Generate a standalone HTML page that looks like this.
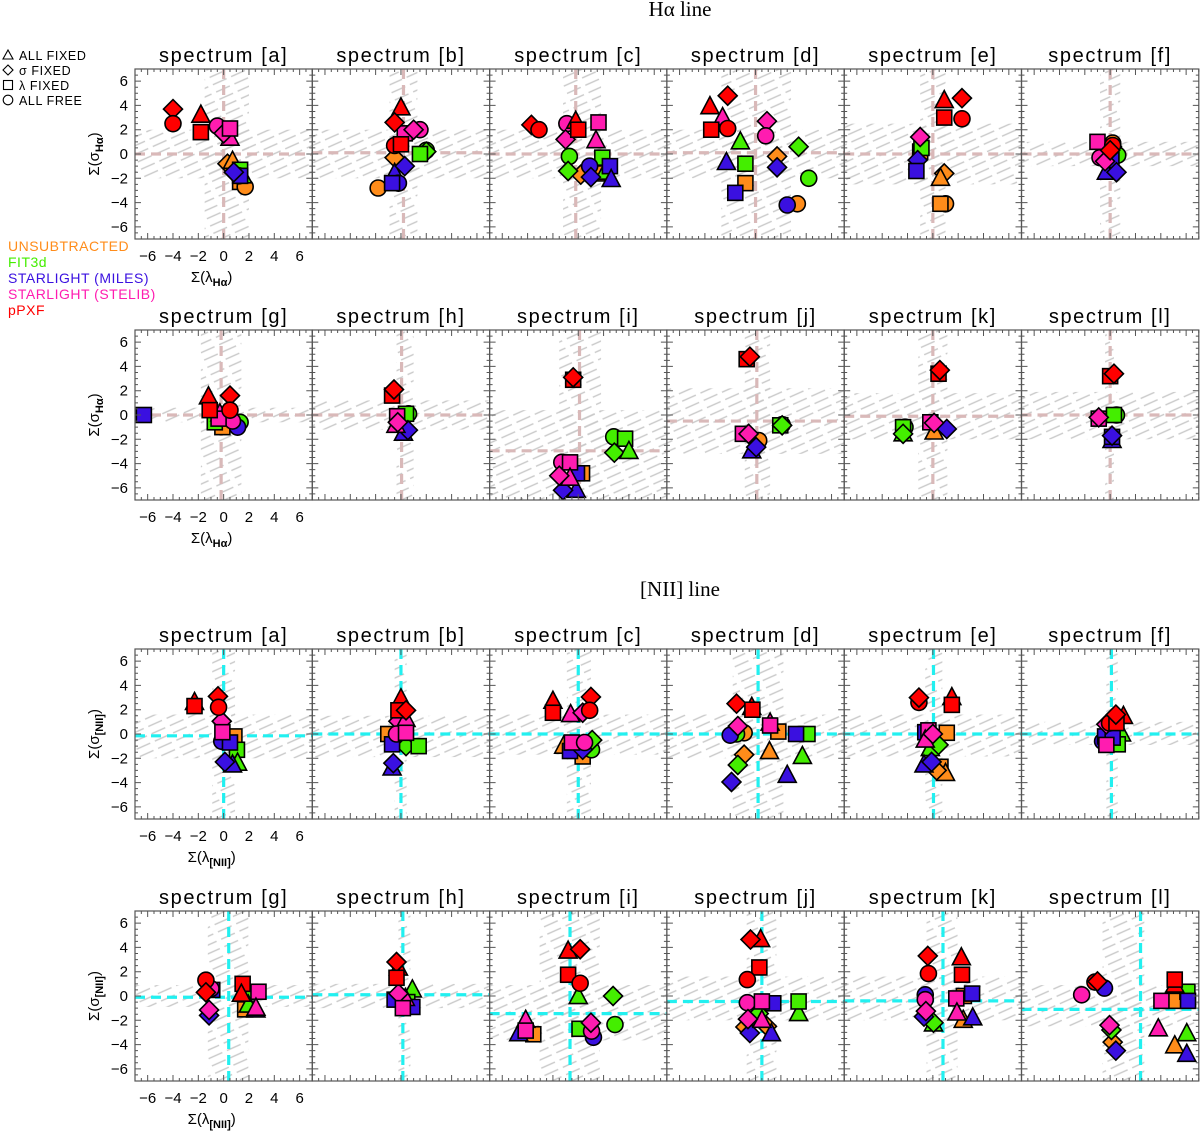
<!DOCTYPE html>
<html><head><meta charset="utf-8">
<style>
html,body{margin:0;padding:0;background:#fff;}
svg{display:block;font-family:"Liberation Sans",sans-serif;}
</style></head>
<body>
<svg id="chart" width="1200" height="1132" viewBox="0 0 1200 1132" xmlns="http://www.w3.org/2000/svg">
<defs>
<pattern id="hatch" patternUnits="userSpaceOnUse" width="20" height="8" patternTransform="rotate(-24)">
<line x1="0" y1="4" x2="15" y2="4" stroke="#c9c9c9" stroke-width="1.4"/>
</pattern>
</defs>
<text x="680" y="16" text-anchor="middle" font-family="Liberation Serif,serif" font-size="21">Hα line</text>
<text x="680" y="596" text-anchor="middle" font-family="Liberation Serif,serif" font-size="21">[NII] line</text>
<g id="legend"></g>
<g id="plots"></g>
</svg>
<script>
// method codes: U unsubtracted, F FIT3d, M STARLIGHT(MILES), S STARLIGHT(STELIB), P pPXF
// shape codes: t all fixed, d sigma fixed, s lambda fixed, c all free
const letters=['a','b','c','d','e','f','g','h','i','j','k','l'];
// ---------- Halpha row 1 ----------
const ha_a=[[-4,3.7,'P','d'],[-4,2.5,'P','c'],[-1.8,3.2,'P','t'],[-1.8,1.8,'P','s'],[-0.5,2.3,'S','c'],[0.5,1.3,'S','t'],[0,1.7,'S','d'],[0.5,2.1,'S','s'],[0.3,-0.8,'U','d'],[0.7,-0.6,'U','t'],[1.5,-1.8,'F','t'],[1.3,-1.3,'F','s'],[1.3,-2.3,'U','s'],[1.7,-2.7,'U','c'],[1.2,-1.8,'M','c'],[1.3,-1.8,'M','s'],[0.8,-1.5,'M','d']];
const ha_b=[[0,3.8,'P','t'],[-0.5,2.6,'P','d'],[0.3,1.7,'S','s'],[1.5,2,'S','c'],[1,2,'S','d'],[-0.5,0.7,'P','c'],[0,0.8,'P','s'],[2,0.3,'F','c'],[2,0.2,'F','d'],[1.5,0,'F','s'],[-0.5,-0.3,'U','d'],[-0.5,-1.6,'M','t'],[-0.2,-2.4,'M','c'],[-0.7,-2.4,'M','s'],[0.3,-1,'M','d'],[-1.8,-2.8,'U','c']];
const ha_c=[[-3.7,2.4,'P','d'],[-3.1,2,'P','c'],[-0.9,2.5,'S','c'],[-0.2,2.7,'P','t'],[1.6,2.6,'S','s'],[0,2,'P','s'],[-1,1.2,'S','d'],[1.4,1.1,'S','t'],[-0.7,-0.2,'F','c'],[1.9,-0.3,'F','s'],[-0.8,-1.4,'F','d'],[0.2,-1.7,'U','d'],[1.5,-1.6,'U','s'],[2.1,-1.5,'F','t'],[0.9,-1,'M','c'],[2.5,-1,'M','s'],[1,-1.9,'M','d'],[2.6,-2.1,'M','t']];
const ha_d=[[-3.6,3.9,'P','t'],[-2.2,4.8,'P','d'],[-3.5,2,'P','s'],[-2.6,3,'S','t'],[-2.2,2.1,'P','c'],[0.9,2.7,'S','d'],[0.8,1.5,'S','c'],[3.4,0.6,'F','d'],[-1.2,1,'F','t'],[1.7,-0.2,'U','d'],[-2.3,-0.7,'M','t'],[-0.8,-0.8,'F','s'],[1.7,-1.1,'M','d'],[-0.8,-2.4,'U','s'],[-1.6,-3.2,'M','s'],[4.2,-2,'F','c'],[3.3,-4.1,'U','c'],[2.5,-4.2,'M','c']];
const ha_e=[[0.9,4.4,'P','t'],[2.3,4.6,'P','d'],[0.9,3,'P','s'],[2.3,2.9,'P','c'],[-1,1.4,'S','d'],[-0.9,0.5,'F','s'],[-1,0.2,'U','s'],[-1.2,-0.5,'M','d'],[-1.3,-1.4,'M','s'],[0.9,-1.6,'U','d'],[0.6,-2,'U','t'],[1,-4.1,'U','c'],[0.6,-4.1,'U','s']];
const ha_f=[[-1,1,'S','s'],[0.2,0.7,'P','c'],[0.2,0.9,'U','c'],[0,0.3,'P','d'],[0.3,0,'F','s'],[0.6,-0.1,'F','c'],[-0.8,-0.3,'S','c'],[-0.4,-0.6,'S','d'],[0.1,-0.5,'M','s'],[-0.3,-1.5,'M','t'],[0.5,-1.5,'M','d']];
// ---------- Halpha row 2 ----------
const ha_g=[[-6.3,0,'M','s'],[-1.2,1.5,'P','t'],[0.5,1.6,'P','d'],[-1.1,0.4,'P','s'],[0.5,0.4,'P','c'],[-0.3,0.1,'S','t'],[-0.7,-0.6,'F','s'],[-0.1,-1,'U','s'],[1.3,-0.6,'F','c'],[1.1,-1,'M','c'],[0.7,-0.5,'S','c'],[-0.4,-0.3,'S','s']];
const ha_h=[[-0.7,1.6,'P','s'],[-0.55,2.1,'P','d'],[0.6,0.1,'F','c'],[0.4,0.1,'F','s'],[-0.3,-0.1,'S','s'],[-0.4,-0.85,'S','t'],[0.2,-1.5,'M','t'],[0.55,-1.25,'M','d'],[-0.25,-0.6,'S','d']];
const ha_i=[[-0.4,2.9,'P','s'],[-0.4,3.1,'P','d'],[2.8,-1.8,'F','c'],[3.7,-1.95,'F','s'],[2.85,-3.1,'F','d'],[4,-3,'F','t'],[-1.3,-3.9,'S','c'],[0.3,-4.8,'U','s'],[-0.1,-4.8,'M','s'],[-0.65,-3.9,'S','s'],[-0.65,-5.2,'S','t'],[-1.5,-5,'S','d'],[-0.15,-6.2,'M','t'],[-1.2,-6.2,'M','d']];
const ha_j=[[-0.7,4.6,'P','s'],[-0.45,4.8,'P','d'],[2.1,-0.8,'F','c'],[1.95,-0.85,'F','s'],[2.1,-0.85,'F','d'],[-1,-1.55,'S','s'],[0.25,-2.1,'U','c'],[-0.3,-2.95,'M','t'],[0.05,-2.65,'M','d'],[-0.55,-1.55,'S','d']];
const ha_k=[[0.45,3.4,'P','s'],[0.55,3.7,'P','d'],[-2.35,-1.55,'F','t'],[-2.2,-1,'F','c'],[-2.35,-1,'F','s'],[-2.35,-1.55,'F','d'],[-0.2,-0.6,'S','s'],[0.1,-1.4,'U','t'],[1.1,-1.15,'M','d'],[0.1,-0.65,'S','d']];
const ha_l=[[0,3.2,'P','s'],[0.3,3.4,'P','d'],[-0.9,-0.3,'S','s'],[-0.9,-0.2,'S','d'],[0.5,0,'F','c'],[0.3,0,'F','s'],[0.15,-2.1,'M','t'],[0.15,-1.8,'M','s'],[0.15,-1.7,'M','d']];
// ---------- [NII] row 3 ----------
const nii_a=[[-2.3,2.6,'P','t'],[-2.3,2.3,'P','s'],[-0.45,3.1,'P','d'],[-0.4,2.2,'P','c'],[-0.15,1.05,'S','d'],[-0.1,0.15,'S','s'],[0.85,-0.2,'U','s'],[-0.15,-0.6,'M','c'],[0.5,-0.7,'M','s'],[1.05,-1.3,'F','s'],[0.7,-2.55,'M','t'],[1.1,-2.4,'F','t'],[0.1,-2.3,'M','d']];
const nii_b=[[0,2.9,'P','t'],[-0.2,1.95,'P','s'],[0.4,1.95,'P','d'],[-0.2,1.05,'S','d'],[0.4,1.2,'S','t'],[-1,0,'U','s'],[-0.35,0,'S','c'],[0.4,0.1,'S','s'],[-0.7,-0.85,'M','s'],[0.4,-1,'F','d'],[1.4,-1,'F','s'],[-0.7,-2.8,'M','t'],[-0.6,-2.4,'M','d']];
const nii_c=[[-2,2.7,'P','t'],[-2,1.75,'P','s'],[-0.6,1.6,'S','t'],[0.35,1.75,'S','d'],[1,3.05,'P','d'],[0.9,1.95,'P','c'],[-1.15,-1,'U','t'],[0.35,-1.85,'U','s'],[-0.65,-1.4,'M','s'],[0.35,-1.3,'M','d'],[1.05,-1.3,'F','c'],[1.1,-0.5,'F','d'],[-0.5,-0.7,'S','s'],[0.5,-0.7,'S','c']];
const nii_d=[[-1.5,2.5,'P','d'],[-0.3,2.2,'P','t'],[-0.25,2,'P','s'],[-0.9,0.1,'U','c'],[-1.5,0,'F','c'],[-2,-0.1,'M','c'],[-1.4,0.65,'S','d'],[1.15,0.9,'S','t'],[1.8,0.2,'U','s'],[1.15,0.7,'S','s'],[4.1,0,'F','s'],[3.2,0,'M','s'],[-0.9,-1.7,'U','d'],[-1.4,-2.55,'F','d'],[-1.9,-3.95,'M','d'],[1.1,-1.45,'U','t'],[3.7,-1.85,'F','t'],[2.5,-3.4,'M','t']];
const nii_e=[[-1.1,2.6,'P','c'],[-1.1,3,'P','d'],[1.5,3,'P','t'],[1.5,2.4,'P','s'],[-0.6,0.15,'M','s'],[1.1,0.1,'U','s'],[-0.35,0.3,'S','s'],[-0.6,-0.5,'S','t'],[-0.2,-1.2,'F','t'],[0.45,-0.9,'F','d'],[0,0,'S','d'],[0.6,-2.7,'U','s'],[1,-3.25,'U','t'],[-0.7,-2.55,'M','t'],[-0.1,-2.3,'M','d'],[0.3,-3,'U','d']];
const nii_f=[[1.05,1.45,'P','t'],[-0.3,0.8,'S','d'],[-0.05,0.9,'P','c'],[0.5,0.9,'P','s'],[0.45,1.6,'P','d'],[0.9,0,'F','t'],[0.6,-0.85,'F','s'],[-0.6,-0.6,'M','c'],[-0.4,-0.2,'M','s'],[0.2,-0.3,'M','s'],[-0.3,-0.9,'S','s']];
// ---------- [NII] row 4 ----------
const nii_g=[[-1.4,1.3,'P','c'],[-0.9,0.5,'M','s'],[-1,0.6,'S','c'],[-1.4,0.3,'P','d'],[1.5,1,'P','s'],[1.4,0.15,'P','t'],[1.95,0.3,'F','s'],[2.75,0.35,'S','s'],[1.95,-0.75,'F','t'],[1.7,-1.1,'U','s'],[2.55,-1.15,'M','t'],[2.55,-1,'S','t'],[-1.15,-1.6,'M','d'],[-1.15,-1.15,'S','d']];
const nii_h=[[-0.2,2.3,'P','t'],[-0.35,2.8,'P','d'],[-0.35,1.5,'P','s'],[0.9,0.5,'F','t'],[-0.5,-0.3,'M','s'],[0.9,-0.9,'M','s'],[0.5,-0.5,'F','s'],[0.35,-0.2,'S','t'],[-0.2,0.2,'S','d'],[0.15,-1,'S','s']];
const nii_i=[[-0.8,3.7,'P','t'],[0.15,3.85,'P','d'],[-0.8,1.75,'P','s'],[0.15,1.05,'P','c'],[0,-0.05,'F','t'],[2.75,0,'F','d'],[-4.7,-3.1,'M','t'],[-4.15,-2,'S','t'],[-3.55,-3.15,'U','s'],[-4.15,-2.85,'S','s'],[0.1,-2.7,'F','s'],[1.2,-3.4,'M','c'],[1.05,-2.9,'S','c'],[1,-2.2,'S','d'],[2.9,-2.35,'F','c']];
const nii_j=[[0.4,4.65,'P','t'],[-0.4,4.65,'P','d'],[0.3,2.35,'P','s'],[-0.65,1.35,'P','c'],[-0.65,-0.55,'S','c'],[1.4,-0.6,'M','s'],[0.5,-0.45,'S','s'],[3.4,-1.45,'F','t'],[3.4,-0.45,'F','s'],[0.25,-1.45,'F','d'],[0.9,-2.5,'U','d'],[1.25,-3.1,'M','t'],[0.5,-2,'S','t'],[-0.8,-2.55,'U','d'],[-0.6,-1.9,'S','d'],[-0.45,-3.05,'M','d']];
const nii_k=[[-0.4,3.3,'P','d'],[2.25,3.15,'P','t'],[-0.35,1.85,'P','c'],[2.3,1.75,'P','s'],[-0.6,0.1,'M','c'],[-0.6,-0.3,'S','c'],[2.45,0,'U','s'],[3.1,0.2,'M','s'],[1.85,-0.2,'S','s'],[-0.7,-1.7,'M','d'],[-0.55,-1.25,'S','d'],[0.05,-2.3,'F','t'],[0.05,-2.2,'F','d'],[2.4,-2,'U','t'],[1.9,-1.4,'S','t'],[3.15,-1.8,'M','t']];
const nii_l=[[-2.25,0.1,'S','c'],[-1.2,1.15,'P','c'],[-0.45,0.65,'M','c'],[-1,1.2,'P','d'],[5.1,0.9,'P','t'],[5.1,1.35,'P','s'],[6.1,0.35,'F','s'],[4.05,-0.4,'S','s'],[5,-0.4,'U','s'],[6.15,-0.4,'M','s'],[3.8,-2.7,'S','t'],[6.05,-3.1,'F','t'],[5.1,-4.1,'U','t'],[6.05,-4.8,'M','t'],[0.1,-2.8,'F','d'],[-0.05,-2.4,'S','d'],[0.2,-3.8,'U','d'],[0.45,-4.5,'M','d']];

// reference lines and bands: [vline x, hline y, vband lo, vband hi, hband lo, hband hi]
const refs_ha=[[0,0,-1.5,2,-2,2],[0.2,0.1,-0.9,1.3,-2,2],[-0.2,0,-1.2,1.8,-2,2],[0,0.1,-2.7,2.8,-2,2],[0,0,-1,1,-2.5,2.5],[0,0,-0.8,0.8,-1,1],
 [-0.2,0,-1.8,1.4,-0.6,0.6],[0.05,0,-0.35,1,-1.2,1.2],[0.1,-2.95,-1.5,1.8,-7,0.4],[0.1,-0.5,-0.85,1.15,-3.2,2.2],[0,-0.1,-1.15,1.15,-2,1.8],[0,0,-0.4,0.3,-2,1.9]];
const refs_nii=[[0,-0.15,-0.9,0.9,-2,1.6],[0,0,-0.5,0.45,-1.9,1.5],[0,0,-0.9,1,-1.7,1.6],[0.2,0,-1.8,2.2,-2,1.6],[0.05,0,-0.6,0.75,-1.85,1.6],[0.1,0,-0.3,0.6,-0.9,1],
 [0.4,-0.1,-1.25,1.95,-0.9,0.9],[0.15,0.1,-0.2,0.75,-1,1],[-0.65,-1.45,-3.05,1.7,-3.65,0.9],[0.5,-0.45,-0.7,1.65,-2,1.6],[0.8,-0.4,-0.5,1.95,-2,1.6],[2.4,-1.1,-0.6,2.7,-2.5,0.9]];

const panelsHa=[ha_a,ha_b,ha_c,ha_d,ha_e,ha_f,ha_g,ha_h,ha_i,ha_j,ha_k,ha_l];
const panelsNii=[nii_a,nii_b,nii_c,nii_d,nii_e,nii_f,nii_g,nii_h,nii_i,nii_j,nii_k,nii_l];
const xTicks=[-6,-4,-2,0,2,4,6];
const yTicks=[6,4,2,0,-2,-4,-6];

const COL={U:'#ff8c1a',F:'#44ee00',M:'#3a10e0',S:'#ff1cb0',P:'#ff0000'};
const METHOD_NAME={U:'unsubtracted',F:'fit3d',M:'starlight-miles',S:'starlight-stelib',P:'ppxf'};
const SHAPE_NAME={t:'triangle',d:'diamond',s:'square',c:'circle'};
const NS='http://www.w3.org/2000/svg';
const svg=document.getElementById('chart');
const plots=document.getElementById('plots');
const ROWS=[69,330,649,911], PH=170, PL=135, PW=177.3, R=7;
function xs(i,v){return PL+i*PW+(v+R)/(2*R)*PW;}
function ys(r,v){return ROWS[r]+(R-v)/(2*R)*PH;}
function el(t,a,p){const e=document.createElementNS(NS,t);for(const k in a)e.setAttribute(k,a[k]);(p||svg).appendChild(e);return e;}

function marker(g,x,y,shape,color){
  let e;
  if(shape==='s'){e=el('rect',{x:x-7.5,y:y-7.5,width:15,height:15},g);}
  else if(shape==='c'){e=el('circle',{cx:x,cy:y,r:8},g);}
  else if(shape==='d'){e=el('polygon',{points:`${x},${y-9.5} ${x+9.5},${y} ${x},${y+9.5} ${x-9.5},${y}`},g);}
  else {e=el('polygon',{points:`${x},${y-10} ${x+9},${y+7} ${x-9},${y+7}`},g);}
  e.setAttribute('fill',color);e.setAttribute('stroke','#000');e.setAttribute('stroke-width','1.6');
  return e;
}

function drawPanel(row,col,data,ref,lineColor,letter){
  const g=el('g',{},plots);
  
  
  const x0=PL+col*PW, y0=ROWS[row];
  const cid='clip'+row+'_'+col;
  const cp=el('clipPath',{id:cid},g);el('rect',{x:x0,y:y0,width:PW,height:PH},cp);
  const inner=el('g',{'clip-path':`url(#${cid})`},g);
  const vb=el('rect',{x:xs(col,ref[2]),y:y0,width:xs(col,ref[3])-xs(col,ref[2]),height:PH,fill:'url(#hatch)'},inner);
  
  const hb=el('rect',{x:x0,y:ys(row,ref[5]),width:PW,height:ys(row,ref[4])-ys(row,ref[5]),fill:'url(#hatch)'},inner);
  
  const vl=el('line',{x1:xs(col,ref[0]),x2:xs(col,ref[0]),y1:y0,y2:y0+PH,stroke:lineColor,'stroke-width':3.2,'stroke-dasharray':'10 6'},inner);
  
  const hl=el('line',{x1:x0,x2:x0+PW,y1:ys(row,ref[1]),y2:ys(row,ref[1]),stroke:lineColor,'stroke-width':3.2,'stroke-dasharray':'10 6'},inner);
  
  const order=['U','F','M','S','P'];
  const sorted=data.slice().sort((a,b)=>order.indexOf(a[2])-order.indexOf(b[2]));
  for(const d of sorted){
    const m=marker(inner,xs(col,d[0]),ys(row,d[1]),d[3],COL[d[2]]);
    
    
  }
  const fr=el('rect',{x:x0,y:y0,width:PW,height:PH,fill:'none',stroke:'#555','stroke-width':1.2},g);
  
  let tp='';
  for(let v=-7;v<=7.001;v+=0.5){
    const major=Math.abs(v%2)<1e-6&&Math.abs(v)<7;
    const L=major?6:3;
    const X=xs(col,v),Y=ys(row,v);
    tp+=`M${X},${y0+PH}v${-L}M${X},${y0}v${L}M${x0},${Y}h${L}M${x0+PW},${Y}h${-L}`;
  }
  el('path',{d:tp,stroke:'#555','stroke-width':1,fill:'none'},g);
  const t=el('text',{x:x0+PW/2,y:y0-7,'text-anchor':'middle','font-size':20,'letter-spacing':'1.6'},g);
  t.textContent='spectrum ['+letter+']';
  
  if(col===0){
    for(const v of yTicks){
      const tl=el('text',{x:x0-7,y:ys(row,v)+5,'text-anchor':'end','font-size':15},g);
      tl.textContent=v<0?'−'+(-v):String(v);
      
    }
    for(const v of xTicks){
      const tl=el('text',{x:xs(col,v),y:y0+PH+22,'text-anchor':'middle','font-size':15},g);
      tl.textContent=v<0?'−'+(-v):String(v);
      
    }
    const sub=row<2?'Hα':'[NII]';
    const xt=el('text',{x:x0+PW/2-12,y:y0+PH+43,'text-anchor':'middle','font-size':15},g);
    xt.innerHTML=`Σ(λ<tspan font-size="11" font-weight="bold" dy="4">${sub}</tspan><tspan dy="-4">)</tspan>`;
    
    const yt=el('text',{x:0,y:0,'text-anchor':'middle','font-size':15,transform:`translate(99,${y0+PH/2}) rotate(-90)`},g);
    yt.innerHTML=`Σ(σ<tspan font-size="11" font-weight="bold" dy="4">${sub}</tspan><tspan dy="-4">)</tspan>`;
    
  }
}

for(let k=0;k<12;k++){
  drawPanel(Math.floor(k/6),k%6,panelsHa[k],refs_ha[k],'#d9b9b9',letters[k]);
  drawPanel(2+Math.floor(k/6),k%6,panelsNii[k],refs_nii[k],'#22f0f0',letters[k]);
}

const lg=document.getElementById('legend');
const shapesLeg=[['t','ALL FIXED'],['d','σ FIXED'],['s','λ FIXED'],['c','ALL FREE']];
shapesLeg.forEach((s,i)=>{
  const y=55+i*15;
  let e;
  if(s[0]==='t')e=el('polygon',{points:`${8},${y-5} ${13},${y+4} ${3},${y+4}`},lg);
  else if(s[0]==='d')e=el('polygon',{points:`${8},${y-5} ${13},${y} ${8},${y+5} ${3},${y}`},lg);
  else if(s[0]==='s')e=el('rect',{x:3.5,y:y-4.5,width:9,height:9},lg);
  else e=el('circle',{cx:8,cy:y,r:4.8},lg);
  e.setAttribute('fill','none');e.setAttribute('stroke','#000');e.setAttribute('stroke-width','1.1');
  
  const t=el('text',{x:19,y:y+5,'font-size':12.5,'letter-spacing':'0.6'},lg);
  t.textContent=s[1];
  
});
const methLeg=[['U','UNSUBTRACTED'],['F','FIT3d'],['M','STARLIGHT (MILES)'],['S','STARLIGHT (STELIB)'],['P','pPXF']];
methLeg.forEach((m,i)=>{
  const t=el('text',{x:8,y:251+i*16,'font-size':14,fill:COL[m[0]],'letter-spacing':'0.5'},lg);
  t.textContent=m[1];
  
});
</script>
</body></html>
